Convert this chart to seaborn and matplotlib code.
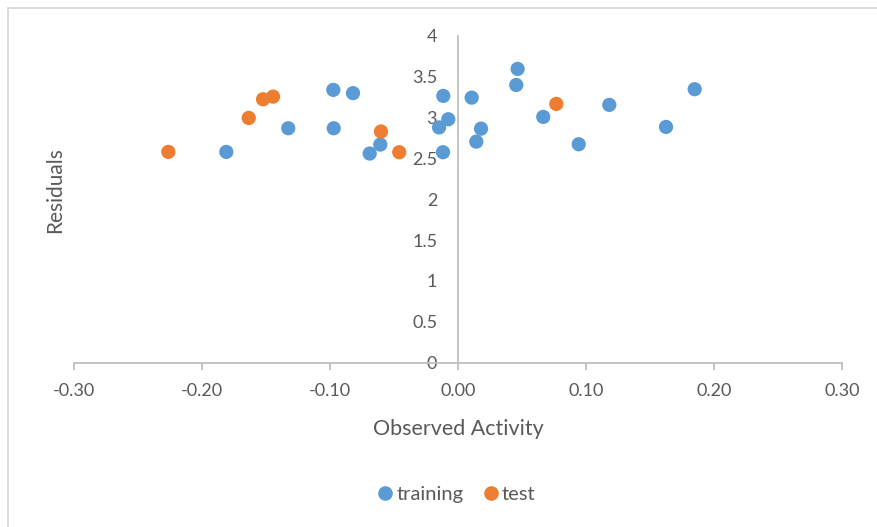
import matplotlib
matplotlib.use("Agg")
import matplotlib.pyplot as plt
import seaborn as sns
import pandas as pd
from matplotlib.lines import Line2D
from matplotlib.ticker import FixedLocator

train_x = [-0.181, -0.1326, -0.0974, -0.0971, -0.082, -0.069, -0.0607, -0.0115,
           -0.0148, -0.0076, -0.0117, 0.0107, 0.018, 0.0143, 0.0466, 0.0455,
           0.0666, 0.0943, 0.1182, 0.1625, 0.1849]
train_y = [2.58, 2.87, 3.34, 2.87, 3.30, 2.56, 2.67, 3.266,
           2.88, 2.98, 2.576, 3.245, 2.865, 2.706, 3.597, 3.40,
           3.009, 2.674, 3.156, 2.886, 3.348]
test_x = [-0.2263, -0.1635, -0.1523, -0.1445, -0.0602, -0.0459, 0.0768]
test_y = [2.58, 2.996, 3.225, 3.257, 2.83, 2.576, 3.168]
series = ["training", "test"]
x_ticks = [-0.30, -0.20, -0.10, 0.00, 0.10, 0.20, 0.30]
y_ticks = [0, 0.5, 1, 1.5, 2, 2.5, 3, 3.5, 4]

df = pd.DataFrame({
    "x": train_x + test_x,
    "y": train_y + test_y,
    "set": [series[0]] * len(train_x) + [series[1]] * len(test_x),
})

sns.set_theme(style="white")
plt.rcParams["font.family"] = ["Lato", "DejaVu Sans"]
txt = "#595959"
axc = "#BFBFBF"

fig = plt.figure(figsize=(8.78, 5.27), dpi=100)
ax = fig.add_axes([74/878, 1 - 362.5/527, 768/878, 326.5/527])

sns.scatterplot(data=df, x="x", y="y", hue="set", hue_order=series,
                palette={"training": "#5B9BD5", "test": "#ED7D31"},
                s=105, edgecolor="none", linewidth=0, ax=ax, legend=False,
                zorder=3)

ax.set_xlim(-0.30, 0.30)
ax.set_ylim(0, 4)
ax.xaxis.set_major_locator(FixedLocator(x_ticks))
ax.yaxis.set_major_locator(FixedLocator(y_ticks))
ax.set_xticklabels([f"{v:.2f}" for v in x_ticks])
ax.set_yticklabels([f"{v:g}" for v in y_ticks])

for s in ["top", "right"]:
    ax.spines[s].set_visible(False)
ax.spines["left"].set_position(("data", 0))
ax.spines["left"].set_color(axc)
ax.spines["bottom"].set_color(axc)
ax.spines["left"].set_linewidth(1.3)
ax.spines["bottom"].set_linewidth(1.3)
ax.tick_params(axis="x", direction="out", length=5, width=1.3, color=axc,
               labelsize=13, labelcolor=txt, pad=10, bottom=True)
ax.tick_params(axis="y", length=0, labelsize=13, labelcolor=txt, pad=15, left=True)
ax.grid(False)

ax.set_xlabel("Observed Activity", fontsize=15.5, color=txt)
ax.set_ylabel("Residuals", fontsize=15, color=txt)
ax.xaxis.set_label_coords(0.5, -0.172)
ax.yaxis.set_label_coords(-0.012, 0.528)

handles = [Line2D([], [], marker="o", linestyle="none", markersize=10.5,
                  markerfacecolor=c, markeredgecolor="none")
           for c in ["#5B9BD5", "#ED7D31"]]
fig.legend(handles, series, loc="center", bbox_to_anchor=(455/878, 1 - 494/527),
           ncol=2, frameon=False, fontsize=14.5, labelcolor=txt,
           handletextpad=0.0, columnspacing=0.8, handlelength=1.1)

# chart area border (top and left visible)
fig.add_artist(Line2D([8/878, 1], [1 - 8/527, 1 - 8/527], transform=fig.transFigure,
                      color="#D9D9D9", linewidth=1.3))
fig.add_artist(Line2D([8/878, 8/878], [0, 1 - 8/527], transform=fig.transFigure,
                      color="#D9D9D9", linewidth=1.3))

fig.savefig("out.png", dpi=100, facecolor="white")
